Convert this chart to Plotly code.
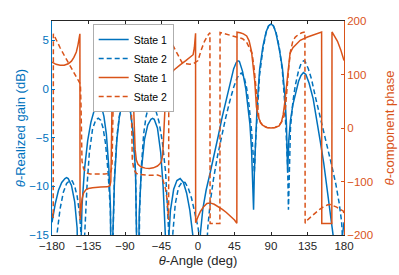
import plotly.graph_objects as go

BLUE = "#0072BD"
ORANGE = "#D95319"
AXC = "#262626"

# (theta deg, realized gain dB) - State 1
gain_s1_pts = [(-180,-13.7),(-176,-11.8),(-172,-10.4),(-168,-9.6),(-164,-9.2),(-162,-9.1),(-160,-9.2),(-156,-9.9),(-152,-11.6),(-149,-14.3),(-147,-25),(-145,-17),(-143,-12),(-140,-8.3),(-136,-5.3),(-132,-3.4),(-128,-2.2),(-124,-1.6),(-122,-1.5),(-119,-1.8),(-116,-2.8),(-113,-4.6),(-110,-8.0),(-108,-12),(-106.5,-25),(-105,-15),(-103,-9.5),(-100,-5.2),(-97,-2.9),(-94,-1.6),(-91,-1.05),(-89,-1.0),(-86,-1.4),(-83,-2.5),(-80,-4.5),(-77,-8.5),(-75,-14),(-74,-25),(-72.5,-13),(-70,-8.5),(-66,-5.2),(-62,-3.7),(-58,-3.1),(-56,-3.0),(-54,-3.1),(-50,-4.0),(-46,-6.5),(-43,-10),(-40,-15.5),(-38.5,-25),(-37,-16.5),(-34,-12.5),(-30,-10.3),(-26,-9.4),(-22,-9.2),(-18,-9.6),(-14,-10.7),(-10,-12.5),(-6,-15.3),(-3.5,-19),(-1.5,-25),(0.5,-19),(3,-14.8),(6,-12.3),(10,-10.4),(15,-8.6),(20,-6.8),(25,-4.8),(30,-2.8),(35,-1.0),(40,0.9),(44,2.1),(47,2.7),(49,2.9),(51,2.85),(55,1.8),(59,0.0),(62,-2.0),(64,-3.6),(66,-6.2),(67.5,-9.5),(68.5,-12.4),(69.5,-8.5),(71,-4.5),(73,-1.5),(76,2.0),(80,4.4),(84,5.9),(87,6.5),(90,6.7),(93,6.5),(96,5.8),(100,4.2),(104,2.2),(107,-0.5),(109,-3.5),(110.5,-8.6),(112,-5.2),(114,-3.2),(117,-1.6),(120,-0.5),(124,0.8),(127,1.4),(130,1.7),(133,1.5),(137,0.6),(142,-1.0),(147,-3.3),(151,-5.5),(155,-7.6),(160,-10.6),(164,-13.5),(167,-15.3),(170,-18.5),(173,-25),(176,-16.5),(178,-14.8),(180,-13.7)]

# State 2 gain
gain_s2_pts = [(-180,-18),(-178.5,-25),(-176.5,-18.5),(-174,-15.0),(-170,-12.3),(-166,-10.6),(-162,-9.7),(-158,-9.4),(-155,-9.45),(-152,-10.0),(-149,-11.0),(-146,-12.8),(-143,-16.5),(-141.5,-25),(-140,-15.5),(-137,-10.2),(-134,-6.6),(-130,-4.1),(-126,-3.15),(-123,-3.0),(-120,-3.2),(-117,-4.0),(-114,-5.6),(-111,-8.4),(-108,-12.5),(-106,-25),(-105,-16),(-103,-9),(-100,-4.9),(-97,-2.8),(-94,-1.6),(-91,-1.0),(-89,-0.95),(-86,-1.3),(-83,-2.4),(-80,-4.6),(-77,-8.7),(-75,-13),(-73.5,-25),(-72,-12.5),(-70,-8.2),(-67,-4.6),(-64,-2.8),(-61,-1.85),(-58,-1.5),(-56,-1.55),(-52,-2.2),(-48,-3.4),(-44,-5.4),(-40,-8.5),(-37,-12.5),(-35,-16.5),(-33,-25),(-31,-14.8),(-28,-11.8),(-24,-10.1),(-20,-9.6),(-18,-9.55),(-16,-9.6),(-12,-10.2),(-8,-11.2),(-4,-12.6),(0,-14.2),(3,-16),(6,-19),(8,-25),(10,-18),(12,-14.3),(15,-11.7),(19,-9.3),(24,-6.9),(29,-4.9),(34,-3.0),(39,-1.3),(44,0.2),(48,1.1),(51,1.55),(54,1.65),(57,1.2),(60,0.1),(63,-1.7),(66,-4.2),(68,-6.4),(69.5,-8.6),(71,-5.4),(73,-2.2),(76,1.5),(80,4.1),(84,5.8),(87,6.5),(90,6.7),(93,6.5),(96,5.9),(100,4.4),(104,1.9),(107,-1.5),(109,-4.5),(110.5,-8),(111.5,-12.4),(112.5,-8.5),(114,-4.0),(117,-1.3),(120,0.4),(124,1.9),(127,2.6),(130,2.9),(132,2.85),(136,2.1),(140,1.0),(145,-0.9),(150,-2.6),(155,-4.4),(160,-6.2),(165,-7.9),(170,-9.8),(174,-11.7),(177,-13.6),(180,-18)]

# State 1 theta-component phase (deg)
phase_s1_pts = [(-180,123),(-175,119),(-170,117.5),(-165,117.5),(-160,120),(-156,125),(-153,132),(-150,142),(-148,155),(-146.5,167),(-145.6,176),(-145.4,-172),(-144,-150),(-143,-133),(-141,-121),(-138,-115),(-135,-113),(-130,-111.5),(-120,-110.5),(-112,-110),(-108.5,-108),(-107.5,-100),(-107,-60),(-106.5,0),(-106,45),(-105,63),(-103,70),(-100,74),(-95,76),(-90,76.5),(-85,76),(-82,73),(-80.5,66),(-79.5,45),(-78.5,0),(-77.5,-40),(-76,-60),(-74,-68),(-70,-73),(-65,-75),(-60,-75.5),(-55,-74.5),(-50,-71),(-47,-67),(-45,-62),(-43.5,-50),(-42.5,-20),(-41.5,20),(-40.5,55),(-39.5,75),(-38,88),(-35,98),(-30,108),(-25,115),(-22,118),(-15,126),(-10,132),(-6,137),(-4.5,150),(-3.5,168),(-3,177),(-2.9,-177),(-2,-173),(0,-166),(3,-156),(7,-147),(11,-141),(15,-140),(20,-142.5),(25,-147),(30,-152),(35,-158),(40,-165),(45,-172),(47.9,-178),(48.1,179),(52,178),(56,176),(60,172),(63,163),(66,143),(68,117),(70,87),(72,40),(74,22),(77,11),(80,5),(85,1),(90,0),(95,1),(100,4),(103,12),(105,25),(107,48),(109,80),(111,113),(113.5,140),(117,150),(120,155),(126,164),(135,170),(145,175),(152.4,179.5),(152.6,-178.5),(165,-178.5),(165.2,179.5),(168,173),(172,162),(176,146),(180,126)]

# State 2 theta-component phase (deg)
phase_s2_pts = [(-180,-160),(-179,-164),(-178.5,-168),(-178.3,176),(-175,165),(-170,150),(-165,136),(-160,122),(-155,108),(-150,94),(-147,87),(-145,82),(-144.2,40),(-143.8,-40),(-143,-62),(-141,-76),(-138,-84),(-133,-86),(-125,-86.5),(-115,-86),(-110,-85),(-107.5,-82),(-106,-72),(-105.5,-30),(-105,30),(-104.5,55),(-103,65),(-100,69),(-95,71),(-90,71.5),(-86,71),(-84,68),(-82.5,58),(-82,25),(-81.5,-30),(-81,-60),(-79,-78),(-76,-85),(-71,-87),(-60,-88.5),(-50,-88),(-46,-90),(-43,-98),(-40,-114),(-38,-135),(-36.8,-158),(-36.2,-172),(-36,169),(-32,157),(-28,145),(-24,133),(-20,123),(-15,120),(-10,119),(-5,121),(0,126),(4,146),(8,162),(12,173),(14.7,178),(14.9,-178.5),(27,-178.5),(27.2,178.5),(35,175),(45,171),(55,167),(60,160),(63,152),(66.5,140),(69,115),(71,82),(73,45),(75,20),(77,10),(80,4),(85,1),(90,0),(95,1),(100,5),(103,11),(106,22),(108,40),(110,87),(112,115),(114,143),(117,163),(120,170),(124,175),(128,178),(131.8,179.5),(132.1,-178),(135,-172),(140,-165),(145,-158),(150,-152),(155,-147),(160,-143.5),(163,-143),(167,-145),(171,-148),(175,-152),(179,-155),(180,-160)]

x_ticks = [-180, -135, -90, -45, 0, 45, 90, 135, 180]
gain_ticks = [-15, -10, -5, 0, 5]
phase_ticks = [-200, -100, 0, 100, 200]
legend_names = ["State 1", "State 2", "State 1", "State 2"]

def split(pts):
    return [p[0] for p in pts], [p[1] for p in pts]

series = [
    (gain_s1_pts, BLUE, "solid", "y"),
    (gain_s2_pts, BLUE, "5px,3px", "y"),
    (phase_s1_pts, ORANGE, "solid", "y2"),
    (phase_s2_pts, ORANGE, "5px,3px", "y2"),
]

fig = go.Figure()
for (pts, col, dash, ax), name in zip(series, legend_names):
    xs, ys = split(pts)
    fig.add_trace(go.Scatter(x=xs, y=ys, mode="lines", name=name, yaxis=ax,
                             line=dict(color=col, width=1.5, dash=dash)))

FONT = "Liberation Sans, Arial, Helvetica, sans-serif"
fig.update_layout(
    width=399, height=275,
    margin=dict(l=52, r=55, t=21, b=40),
    paper_bgcolor="white", plot_bgcolor="white",
    font=dict(family=FONT, size=11.5, color=AXC),
    showlegend=True,
    legend=dict(x=0.14, y=0.985, xanchor="left", yanchor="top",
                bgcolor="white", bordercolor="#9a9a9a", borderwidth=0.8,
                font=dict(size=10.5, color="black"), itemwidth=30,
                tracegroupgap=0),
    xaxis=dict(range=[-180, 180], tickvals=x_ticks, ticks="inside", ticklen=3,
               tickcolor=AXC, showline=True, linecolor=AXC, linewidth=0.8,
               mirror="ticks", showgrid=False, zeroline=False,
               tickfont=dict(size=11.5, color=AXC), automargin=False,
               title=dict(text="<i>θ</i>-Angle (deg)", font=dict(size=13, color=AXC), standoff=5)),
    yaxis=dict(range=[-15, 7], tickvals=gain_ticks, ticks="inside", ticklen=3,
               tickcolor=BLUE, showline=True, linecolor=BLUE, linewidth=0.8,
               showgrid=False, zeroline=False, automargin=False,
               tickfont=dict(size=11.5, color=BLUE),
               title=dict(text="<i>θ</i>-Realized gain (dB)", font=dict(size=13, color=BLUE), standoff=0)),
    yaxis2=dict(range=[-200, 200], tickvals=phase_ticks, ticks="inside", ticklen=3,
                tickcolor=ORANGE, showline=True, linecolor=ORANGE, linewidth=0.8,
                overlaying="y", side="right", showgrid=False, zeroline=False,
                automargin=False,
                tickfont=dict(size=11.5, color=ORANGE),
                title=dict(text="<i>θ</i>-component phase", font=dict(size=13, color=ORANGE), standoff=12)),
)

fig.write_html("out.html", config={"displayModeBar": False},
               post_script="document.body.style.margin='0';document.body.style.overflow='hidden';")
